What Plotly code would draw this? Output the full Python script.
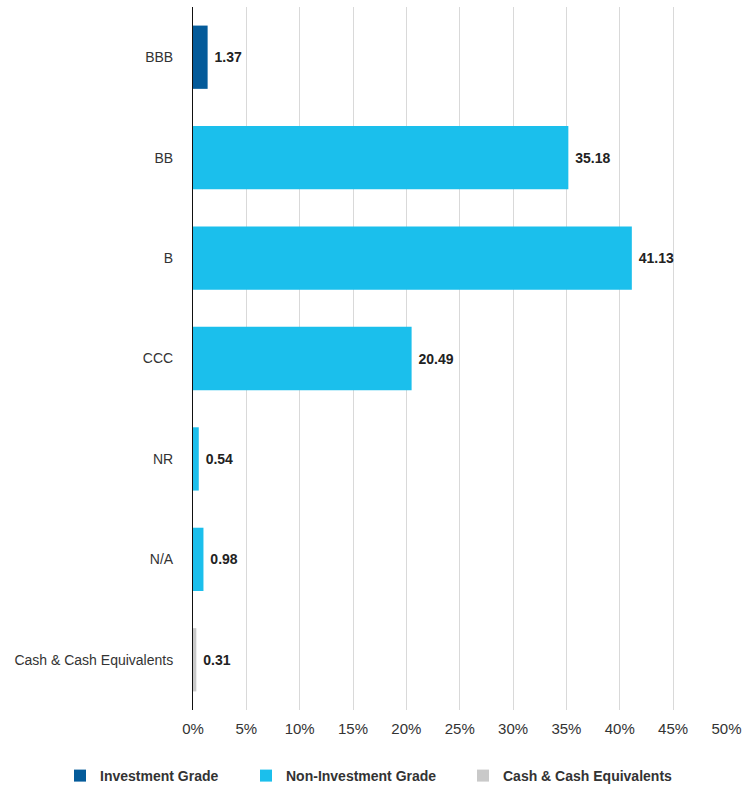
import plotly.graph_objects as go

# Credit quality allocation (% of portfolio)
categories = ["BBB", "BB", "B", "CCC", "NR", "N/A", "Cash & Cash Equivalents"]

ig_cats = ["BBB"]
ig_vals = [1.37]

nig_cats = ["BB", "B", "CCC", "NR", "N/A"]
nig_vals = [35.18, 41.13, 20.49, 0.54, 0.98]

cash_cats = ["Cash & Cash Equivalents"]
cash_vals = [0.31]

x_ticks = [0, 5, 10, 15, 20, 25, 30, 35, 40, 45, 50]

FONT = "Liberation Sans Narrow, Arial Narrow, Liberation Sans, Arial, sans-serif"
W, H = 742, 788


def bar(name, cats, vals, color, legend):
    return go.Bar(
        name=name,
        y=cats,
        x=vals,
        orientation="h",
        marker=dict(color=color, line=dict(width=0)),
        text=[f"\u00a0{v:.2f}" for v in vals],
        textposition="outside",
        textfont=dict(family=FONT, size=14, color="#222222", weight="bold"),
        cliponaxis=False,
        legend=legend,
    )


fig = go.Figure()
fig.add_trace(bar("Investment Grade", ig_cats, ig_vals, "#045b9a", "legend"))
fig.add_trace(bar("Non-Investment Grade", nig_cats, nig_vals, "#1bbfec", "legend2"))
fig.add_trace(bar("Cash & Cash Equivalents", cash_cats, cash_vals, "#c9c9c9", "legend3"))


def legend_box(left_px):
    # one legend entry per box, placed along the bottom of the figure
    return dict(
        orientation="h",
        xref="container",
        yref="container",
        x=left_px / W,
        xanchor="left",
        y=(H - 776) / H,
        yanchor="middle",
        bgcolor="rgba(0,0,0,0)",
        font=dict(family=FONT, size=14, color="#333333", weight="bold"),
    )


fig.update_layout(
    width=W,
    height=H,
    margin=dict(l=193, r=15, t=7, b=78, autoexpand=False),
    paper_bgcolor="white",
    plot_bgcolor="white",
    barmode="relative",
    bargap=0.37,
    font=dict(family=FONT, size=14, color="#333333"),
    showlegend=True,
    legend=legend_box(60),
    legend2=legend_box(246),
    legend3=legend_box(463),
    xaxis=dict(
        range=[0, 50.05],
        tickvals=x_ticks,
        ticktext=[f"{t}%" for t in x_ticks],
        showgrid=True,
        gridcolor="#d9d9d9",
        gridwidth=1,
        zeroline=False,
        showline=False,
        ticks="",
        automargin=False,
        ticklabeloverflow="allow",
        tickfont=dict(family=FONT, size=15, color="#333333"),
        ticklabelstandoff=8,
    ),
    yaxis=dict(
        categoryorder="array",
        categoryarray=categories,
        autorange="reversed",
        showgrid=False,
        zeroline=False,
        showline=True,
        linecolor="#111111",
        linewidth=1,
        ticks="",
        automargin=False,
        ticklabelstandoff=16,
        tickfont=dict(family=FONT, size=14, color="#333333"),
    ),
)

fig.write_html("out.html")
